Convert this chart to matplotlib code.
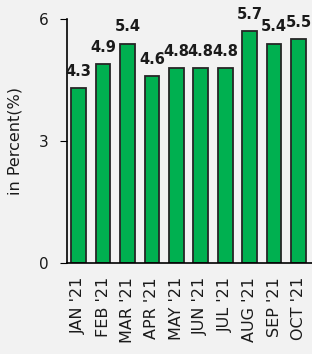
import numpy as np
from matplotlib import pyplot as plt

months = ["JAN '21", "FEB '21", "MAR '21", "APR '21", "MAY '21",
          "JUN '21", "JUL '21", "AUG '21", "SEP '21", "OCT '21"]
values = [4.3, 4.9, 5.4, 4.6, 4.8, 4.8, 4.8, 5.7, 5.4, 5.5]
y_ticks = [0, 3, 6]

plt.rcParams['font.family'] = ['DejaVu Sans']

fig = plt.figure(figsize=(3.12, 3.54), dpi=100, facecolor='#f2f2f2')
ax = fig.add_axes([0.215, 0.257, 0.785, 0.689])
ax.set_facecolor('#f2f2f2')

x = np.arange(len(months))
bars = ax.bar(x, values, width=0.6, color='#00b050', edgecolor='#262626', linewidth=1.3)

# value labels above each bar
for b, v in zip(bars, values):
    ax.annotate(f"{v:.1f}", (b.get_x() + b.get_width() / 2, v),
                xytext=(0, 6.5), textcoords='offset points',
                ha='center', va='bottom', fontsize=10.5, fontweight='bold',
                color='#1a1a1a', annotation_clip=False)

ax.set_xlim(-0.47, 9.55)
ax.set_ylim(0, 6)
ax.set_yticks(y_ticks)
ax.set_xticks(x)
ax.set_xticklabels(months, rotation=90, fontsize=11.5, color='#1a1a1a')
ax.tick_params(axis='x', length=0, pad=10)
ax.tick_params(axis='y', length=5, labelsize=11, pad=8, labelcolor='#1a1a1a')
ax.set_ylabel("in Percent(%)", fontsize=11.5, labelpad=12, color='#1a1a1a')

for s in ['top', 'right']:
    ax.spines[s].set_visible(False)
ax.spines['left'].set_linewidth(1.2)
ax.spines['bottom'].set_linewidth(1.2)

fig.savefig('out.png', dpi=100, facecolor=fig.get_facecolor())
